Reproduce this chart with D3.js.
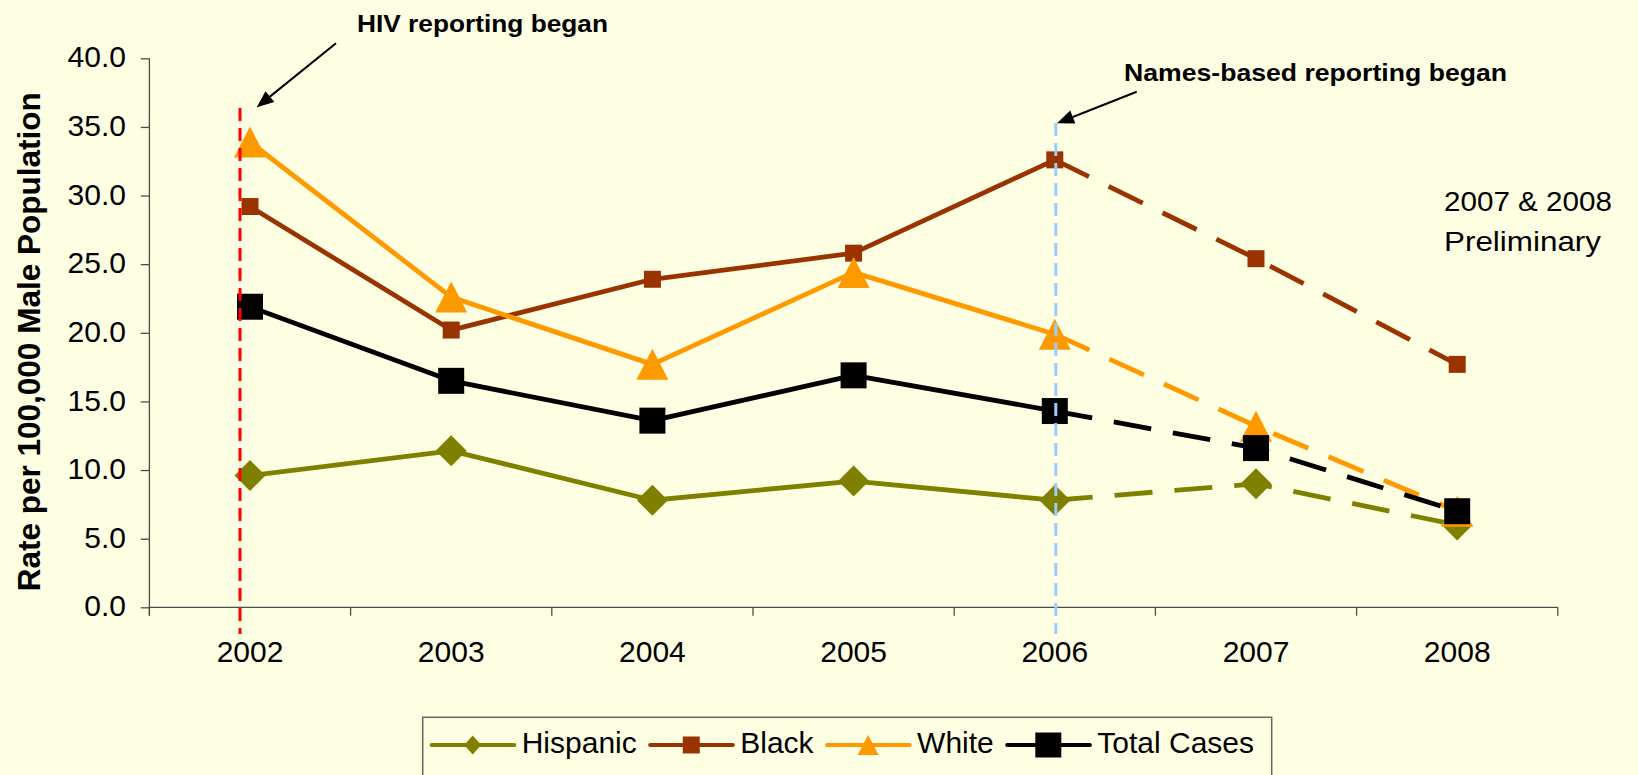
<!DOCTYPE html>
<html>
<head>
<meta charset="utf-8">
<script src="https://cdn.jsdelivr.net/npm/d3@7"></script>
<style>
  html, body { margin: 0; padding: 0; background: #FEFEE2; }
  svg { display: block; font-family: "Liberation Sans", Arial, sans-serif; }
</style>
</head>
<body>
<svg id="chart" width="1638" height="775"></svg>
<script>
// ---- data ----
const years = [2002, 2003, 2004, 2005, 2006, 2007, 2008];
const hispanic = [9.6, 11.4, 7.8, 9.2, 7.8, 9.0, 6.0];
const black    = [29.2, 20.2, 23.9, 25.8, 32.6, 25.4, 17.7];
const white    = [33.9, 22.6, 17.7, 24.4, 19.9, 13.2, 7.0];
const total    = [21.9, 16.5, 13.6, 16.9, 14.3, 11.6, 7.0];
const seriesNames = ["Hispanic", "Black", "White", "Total Cases"];
const yTicks = [0, 5, 10, 15, 20, 25, 30, 35, 40];
const preliminaryStartYear = 2006;
const yAxisTitle = "Rate per 100,000 Male Population";
const noteHIV = "HIV reporting began";
const noteNames = "Names-based reporting began";
const notePrelim = ["2007 & 2008", "Preliminary"];

// ---- styles ----
const colors = ["#808000", "#993300", "#FF9900", "#000000"];
const shapes = ["diamond", "square", "triangle", "bigsquare"];
const chartMarker = { diamond: [31, 31], square: [17, 17], triangle: [32, 31], bigsquare: [26, 26] };
const legendMarker = { diamond: [17, 19], square: [17, 17], triangle: [21, 20], bigsquare: [26, 25] };

const svg = d3.select("#chart");
const W = 1638, H = 775;
svg.append("rect").attr("width", W).attr("height", H).attr("fill", "#FEFEE2");

const x = d3.scaleBand().domain(years).range([149.4, 1557.8]).paddingInner(0).paddingOuter(0);
const y = d3.scaleLinear().domain([0, 40]).range([607.3, 58.3]);
const cx = yr => x(yr) + x.bandwidth() / 2;

function stretch(sel, width) {
  sel.attr("textLength", width).attr("lengthAdjust", "spacingAndGlyphs");
}

// ---- y axis ----
const yAxis = d3.axisLeft(y).tickValues(yTicks).tickFormat(d3.format(".1f"))
  .tickSize(8.6).tickPadding(14.8);
const gy = svg.append("g").attr("transform", "translate(149.4,0)").call(yAxis);
gy.select(".domain").attr("stroke", "#4d4d4d").attr("stroke-width", 1.3)
  .attr("d", `M0,${y(40)}V${y(0) + 8.4}`);
gy.selectAll(".tick line").attr("stroke", "#4d4d4d").attr("stroke-width", 1.3);
gy.selectAll(".tick text").attr("font-size", 30).attr("fill", "#000")
  .attr("font-family", "Liberation Sans, Arial, sans-serif").attr("dy", 0).attr("y", 8.6);

// ---- x axis ----
const xAxis = d3.axisBottom(x).tickSize(0).tickPadding(0);
const gx = svg.append("g").attr("transform", `translate(0,${y(0)})`).call(xAxis);
gx.select(".domain").attr("stroke", "#4d4d4d").attr("stroke-width", 1.3)
  .attr("d", `M${x.range()[0]},0H${x.range()[1]}`);
gx.selectAll(".tick text").attr("font-size", 30).attr("fill", "#000")
  .attr("font-family", "Liberation Sans, Arial, sans-serif").attr("y", 54.4).attr("dy", 0);
const bounds = years.map(d => x(d)).concat([x.range()[1]]);
gx.selectAll(".bound").data(bounds).join("line").attr("class", "bound")
  .attr("x1", d => d).attr("x2", d => d).attr("y1", 0).attr("y2", 8.4)
  .attr("stroke", "#4d4d4d").attr("stroke-width", 1.3);

// ---- y axis title ----
svg.append("text")
  .attr("transform", `translate(40,${(y(0) + y(40)) / 2 + 9}) rotate(-90)`)
  .attr("text-anchor", "middle").attr("font-size", 31).attr("font-weight", "bold")
  .text(yAxisTitle).call(stretch, 499);

// ---- series ----
const seriesData = [hispanic, black, white, total];
const splitIdx = years.indexOf(preliminaryStartYear);

function markerPath(shape, w, h) {
  if (shape === "diamond") return `M0,${-h/2}L${w/2},0L0,${h/2}L${-w/2},0Z`;
  if (shape === "triangle") return `M0,${-h/2}L${w/2},${h/2}L${-w/2},${h/2}Z`;
  return `M${-w/2},${-h/2}H${w/2}V${h/2}H${-w/2}Z`;
}

const line = d3.line().x(d => cx(d.year)).y(d => y(d.v));
seriesData.forEach((vals, i) => {
  const pts = years.map((yr, j) => ({ year: yr, v: vals[j] }));
  const g = svg.append("g");
  g.append("path").attr("d", line(pts.slice(0, splitIdx + 1)))
    .attr("fill", "none").attr("stroke", colors[i]).attr("stroke-width", 4.8)
    .attr("stroke-linejoin", "round");
  g.append("path").attr("d", line(pts.slice(splitIdx)))
    .attr("fill", "none").attr("stroke", colors[i]).attr("stroke-width", 4.8)
    .attr("stroke-dasharray", "38,22").attr("stroke-linejoin", "round");
  const [mw, mh] = chartMarker[shapes[i]];
  g.selectAll(".m").data(pts).join("path").attr("class", "m")
    .attr("transform", d => `translate(${cx(d.year)},${y(d.v)})`)
    .attr("d", markerPath(shapes[i], mw, mh)).attr("fill", colors[i]);
});

// ---- reference lines ----
const xRed = cx(2002) - 10;
const xBlue = cx(preliminaryStartYear) + 1;
svg.append("line").attr("x1", xRed).attr("x2", xRed).attr("y1", 108).attr("y2", 634)
  .attr("stroke", "#FF0000").attr("stroke-width", 3).attr("stroke-dasharray", "13,7");
svg.append("line").attr("x1", xBlue).attr("x2", xBlue).attr("y1", 123).attr("y2", 634)
  .attr("stroke", "#99CCFF").attr("stroke-width", 3).attr("stroke-dasharray", "13,7");

// ---- arrows ----
function arrow(x1, y1, x2, y2) {
  const ang = Math.atan2(y2 - y1, x2 - x1);
  const L = 17, hw = 7;
  const bx = x2 - L * Math.cos(ang), by = y2 - L * Math.sin(ang);
  svg.append("line").attr("x1", x1).attr("y1", y1).attr("x2", bx).attr("y2", by)
    .attr("stroke", "#000").attr("stroke-width", 2);
  const px = -Math.sin(ang) * hw, py = Math.cos(ang) * hw;
  svg.append("path").attr("d", `M${x2},${y2}L${bx + px},${by + py}L${bx - px},${by - py}Z`)
    .attr("fill", "#000");
}
arrow(336, 43.3, 256.7, 107.3);
arrow(1136.7, 91.7, 1057, 123.3);

// ---- annotations ----
svg.append("text").attr("x", 357).attr("y", 31.7).attr("font-size", 23.5)
  .attr("font-weight", "bold").text(noteHIV).call(stretch, 251);
svg.append("text").attr("x", 1124).attr("y", 80.5).attr("font-size", 24.5)
  .attr("font-weight", "bold").text(noteNames).call(stretch, 383);
svg.append("text").attr("x", 1444).attr("y", 211).attr("font-size", 27.5)
  .text(notePrelim[0]).call(stretch, 168);
svg.append("text").attr("x", 1444).attr("y", 251).attr("font-size", 27.5)
  .text(notePrelim[1]).call(stretch, 157);

// ---- legend ----
const lg = svg.append("g");
lg.append("rect").attr("x", 422.7).attr("y", 717.3).attr("width", 1271.7 - 422.7).attr("height", 100)
  .attr("fill", "none").attr("stroke", "#666").attr("stroke-width", 1.5);
let lx = 431.7;
const ly = 745;
seriesNames.forEach((name, i) => {
  lg.append("line").attr("x1", lx).attr("x2", lx + 82.5).attr("y1", ly).attr("y2", ly)
    .attr("stroke", colors[i]).attr("stroke-width", 4.2).attr("stroke-linecap", "round");
  const [mw, mh] = legendMarker[shapes[i]];
  lg.append("path").attr("transform", `translate(${lx + 41},${ly})`)
    .attr("d", markerPath(shapes[i], mw, mh)).attr("fill", colors[i]);
  const t = lg.append("text").attr("x", lx + 90).attr("y", ly + 8.3)
    .attr("font-size", 30).attr("fill", "#000").text(name);
  lx += 90 + t.node().getComputedTextLength() + 13.5;
});
</script>
</body>
</html>
